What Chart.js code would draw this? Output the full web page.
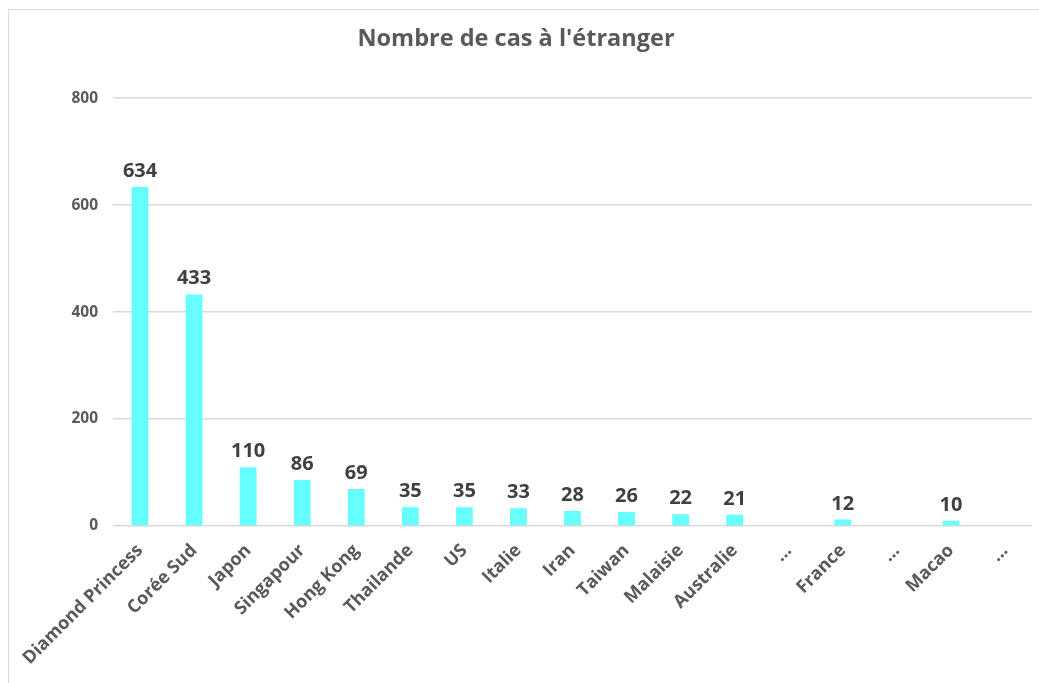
<!DOCTYPE html>
<html>
<head>
<meta charset="utf-8">
<script src="https://cdn.jsdelivr.net/npm/chart.js@4.4.1/dist/chart.umd.min.js"></script>
<style>
  body { margin: 0; background: #fff; }
  #frame { position: absolute; left: 8px; top: 9px; width: 1031px; height: 674px;
           border-left: 1px solid #d9d9d9; border-top: 1px solid #d9d9d9; }
  #wrap { position: absolute; left: 0; top: 0; width: 1039px; height: 683px; }
</style>
</head>
<body>
<div id="frame"></div>
<div id="wrap"><canvas id="cas" width="1039" height="683"></canvas></div>
<script>
// pays / entités
var pays = ["Diamond Princess", "Corée Sud", "Japon", "Singapour", "Hong Kong", "Thailande",
  "US", "Italie", "Iran", "Taiwan", "Malaisie", "Australie", "…", "France", "…", "Macao", "…"];
// nombre de cas
var cas = [634, 433, 110, 86, 69, 35, 35, 33, 28, 26, 22, 21, null, 12, null, 10, null];
var yTicks = [0, 200, 400, 600, 800];

var FONT = "'Open Sans', sans-serif";

// valeurs au-dessus des barres
var valeurs = {
  id: 'valeurs',
  afterDatasetsDraw: function(chart) {
    var ctx = chart.ctx;
    var meta = chart.getDatasetMeta(0);
    ctx.save();
    ctx.font = "bold 20px " + FONT;
    ctx.fillStyle = "#404040";
    ctx.textAlign = "center";
    ctx.textBaseline = "alphabetic";
    meta.data.forEach(function(bar, i) {
      if (cas[i] == null) return;
      ctx.fillText(cas[i], bar.x, bar.y - 10);
    });
    ctx.restore();
  }
};

var ctx = document.getElementById("cas");
new Chart(ctx, {
  type: "bar",
  data: {
    labels: pays,
    datasets: [{
      data: cas,
      backgroundColor: "#66ffff",
      barPercentage: 0.62,
      categoryPercentage: 0.5
    }]
  },
  options: {
    responsive: false,
    animation: false,
    layout: { padding: { left: 0, right: 7, top: 0, bottom: 0 } },
    plugins: {
      legend: { display: false },
      tooltip: { enabled: false },
      title: {
        display: true,
        text: "Nombre de cas à l'étranger",
        color: "#595959",
        font: { family: FONT, size: 23.5, weight: "bold" },
        padding: { top: 25, bottom: 45 }
      }
    },
    scales: {
      x: {
        grid: { display: false },
        border: { display: false },
        ticks: {
          color: "#595959",
          font: { family: FONT, size: 18, weight: "bold" },
          minRotation: 45,
          maxRotation: 45,
          autoSkip: false,
          padding: 6
        },
        afterFit: function(s) { s.height = 157; }
      },
      y: {
        min: 0,
        max: 800,
        afterBuildTicks: function(s) { s.ticks = yTicks.map(function(v) { return { value: v }; }); },
        grid: { color: "#d9d9d9", drawTicks: false, lineWidth: 1.5 },
        border: { display: false },
        ticks: {
          color: "#595959",
          font: { family: FONT, size: 15.5, weight: "bold" },
          padding: 15
        },
        afterFit: function(s) { s.width = 113; }
      }
    }
  },
  plugins: [valeurs]
});
</script>
</body>
</html>
